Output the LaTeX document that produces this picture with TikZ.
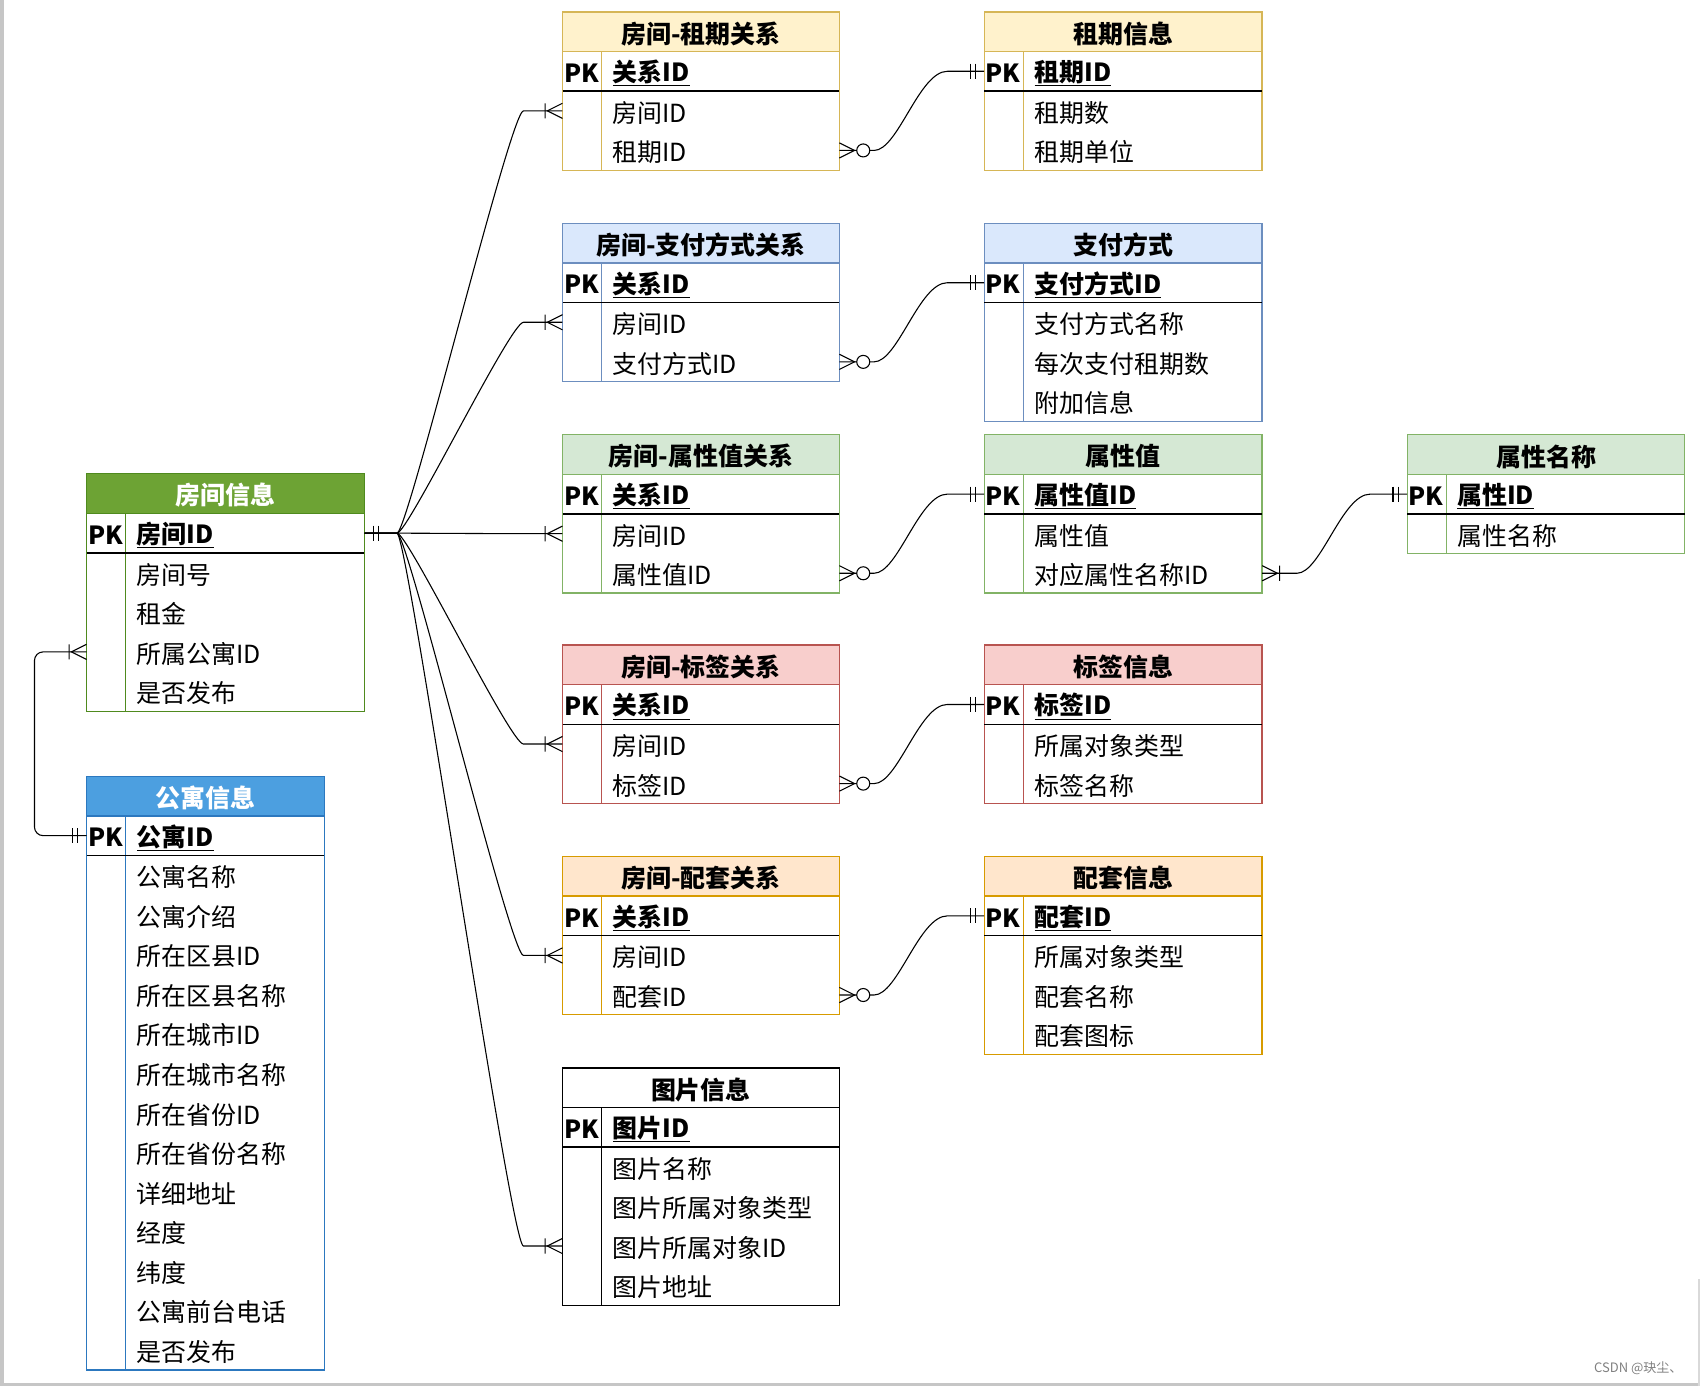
\documentclass[tikz,border=0pt]{standalone}
\usepackage{fontspec}
\setmainfont{Noto Sans CJK SC}
\usetikzlibrary{calc}
\definecolor{yelF}{HTML}{FFF2CC}\definecolor{yelL}{HTML}{D6B656}\colorlet{yelT}{black}
\definecolor{bluF}{HTML}{DAE8FC}\definecolor{bluL}{HTML}{6C8EBF}\colorlet{bluT}{black}
\definecolor{grnF}{HTML}{D5E8D4}\definecolor{grnL}{HTML}{82B366}\colorlet{grnT}{black}
\definecolor{redF}{HTML}{F8CECC}\definecolor{redL}{HTML}{B85450}\colorlet{redT}{black}
\definecolor{orgF}{HTML}{FFE6CC}\definecolor{orgL}{HTML}{D79B00}\colorlet{orgT}{black}
\colorlet{whtF}{white}\colorlet{whtL}{black}\colorlet{whtT}{black}
\definecolor{rmgF}{HTML}{6DA334}\definecolor{rmgL}{HTML}{4F8A1E}\colorlet{rmgT}{white}
\definecolor{apbF}{HTML}{4C9FE0}\definecolor{apbL}{HTML}{2C78BF}\colorlet{apbT}{white}
\tikzset{
  ttl/.style={font=\fontsize{23}{23}\selectfont\bfseries,inner sep=0},
  pkl/.style={anchor=west,font=\fontsize{23}{23}\selectfont\bfseries,inner sep=0},
  fld/.style={anchor=west,font=\fontsize{23}{23}\selectfont,inner sep=0},
  rowbox/.style={draw=none,minimum height=36.5,inner sep=0},
  conn/.style={line width=1},
  one/.pic={\draw[line width=1] (-8,-7)--(-8,7) (-13,-7)--(-13,7);},
  onemany/.pic={\draw[line width=1] (0,-7)--(-14,0)--(0,7) (-16,-7)--(-16,7);},
  zmany/.pic={\draw[line width=1] (0,-7)--(-14,0)--(0,7); \draw[line width=1,fill=white] (-22,0) circle (6);},
}
\newcommand\ertable[9]{%
\begin{scope}[shift={(#2,#3)}]
\pgfmathsetmacro\erbot{36.5*(#8+2)}
\fill[#6F] (0,0) rectangle (#4,36.5);
\node[ttl,text=#6T] (#1-h) at (#4/2,20) {#5};
\node[rowbox,minimum width=#4] (#1-pk) at (#4/2,54.75) {};
\node[pkl] (#1-pkk) at (1,56.5) {PK};
\node[fld] (#1-pkt) at (46,56.5) {\textbf{\underline{#7}}};
\foreach \ft [count=\i] in {#9} {
  \node[rowbox,minimum width=#4] (#1-\i) at (#4/2,{54.75+36.5*\i}) {};
  \node[fld] (#1-t\i) at (46,{56.5+36.5*\i}) {\ft};
}
\draw[#6L,line width=1.2] (0,0) rectangle (#4,\erbot);
\draw[#6L,line width=1.2] (0,36.5) -- (#4,36.5);
\draw[#6L,line width=1.2] (36,36.5) -- (36,\erbot);
\draw[black,line width=1.2] (0,73) -- (#4,73);
\end{scope}}
\begin{document}
\begin{tikzpicture}[x=1pt,y=-1pt]
\useasboundingbox (0,0) rectangle (1568,1278);
\fill[gray!45] (0,0) rectangle (4,1278);
\fill[gray!45] (0,1276) rectangle (1568,1278);
\fill[gray!30] (1566,1180) rectangle (1568,1278);
\ertable{rz}{519}{11}{255}{房间-租期关系}{yel}{关系ID}{2}{房间ID,租期ID}
\ertable{zq}{908}{11}{256}{租期信息}{yel}{租期ID}{2}{租期数,租期单位}
\ertable{rp}{519}{206}{255}{房间-支付方式关系}{blu}{关系ID}{2}{房间ID,支付方式ID}
\ertable{pay}{908}{206}{256}{支付方式}{blu}{支付方式ID}{3}{支付方式名称,每次支付租期数,附加信息}
\ertable{ra}{519}{401}{255}{房间-属性值关系}{grn}{关系ID}{2}{房间ID,属性值ID}
\ertable{av}{908}{401}{256}{属性值}{grn}{属性值ID}{2}{属性值,对应属性名称ID}
\ertable{an}{1298}{401}{256}{属性名称}{grn}{属性ID}{1}{属性名称}
\ertable{rl}{519}{595}{255}{房间-标签关系}{red}{关系ID}{2}{房间ID,标签ID}
\ertable{lab}{908}{595}{256}{标签信息}{red}{标签ID}{2}{所属对象类型,标签名称}
\ertable{rf}{519}{790}{255}{房间-配套关系}{org}{关系ID}{2}{房间ID,配套ID}
\ertable{fac}{908}{790}{256}{配套信息}{org}{配套ID}{3}{所属对象类型,配套名称,配套图标}
\ertable{img}{519}{985}{255}{图片信息}{wht}{图片ID}{4}{图片名称,图片所属对象类型,图片所属对象ID,图片地址}
\ertable{room}{80}{437}{256}{房间信息}{rmg}{房间ID}{4}{房间号,租金,所属公寓ID,是否发布}
\ertable{apt}{80}{716}{219}{公寓信息}{apb}{公寓ID}{13}{公寓名称,公寓介绍,所在区县ID,所在区县名称,所在城市ID,所在城市名称,所在省份ID,所在省份名称,详细地址,经度,纬度,公寓前台电话,是否发布}
% fan connectors
\foreach \tg in {rz-1,rp-1,ra-1,rl-1,rf-1,img-3}{
  \draw[conn] (room-pk.east) -- ++(30,0) .. controls +(10,0) and ($(\tg.west)+(-48,0)$) .. ($(\tg.west)+(-36,0)$) -- (\tg.west);
  \pic at (\tg.west) {onemany};
}
\pic[xscale=-1] at (room-pk.east) {one};
% right connectors
\foreach \a/\b in {rz-2/zq-pk,rp-2/pay-pk,ra-2/av-pk,rl-2/lab-pk,rf-2/fac-pk}{
  \draw[conn] (\a.east) -- ++(32,0) .. controls +(22,0) and ($(\b.west)+(-60,0)$) .. ($(\b.west)+(-34,0)$) -- (\b.west);
  \pic[xscale=-1] at (\a.east) {zmany};
  \pic at (\b.west) {one};
}
\draw[conn] (av-2.east) -- ++(32,0) .. controls +(22,0) and ($(an-pk.west)+(-60,0)$) .. ($(an-pk.west)+(-34,0)$) -- (an-pk.west);
\pic[xscale=-1] at (av-2.east) {onemany};
\pic at (an-pk.west) {one};
% apartment loop
\draw[conn,rounded corners=8] (apt-pk.west) -- ++(-48,0) |- (room-3.west);
\pic at (apt-pk.west) {one};
\pic at (room-3.west) {onemany};
\node[anchor=east,text=gray,font=\fontsize{12}{12}\selectfont,inner sep=0] (wm) at (1552,1262) {CSDN @玦尘、};
\end{tikzpicture}
\end{document}
